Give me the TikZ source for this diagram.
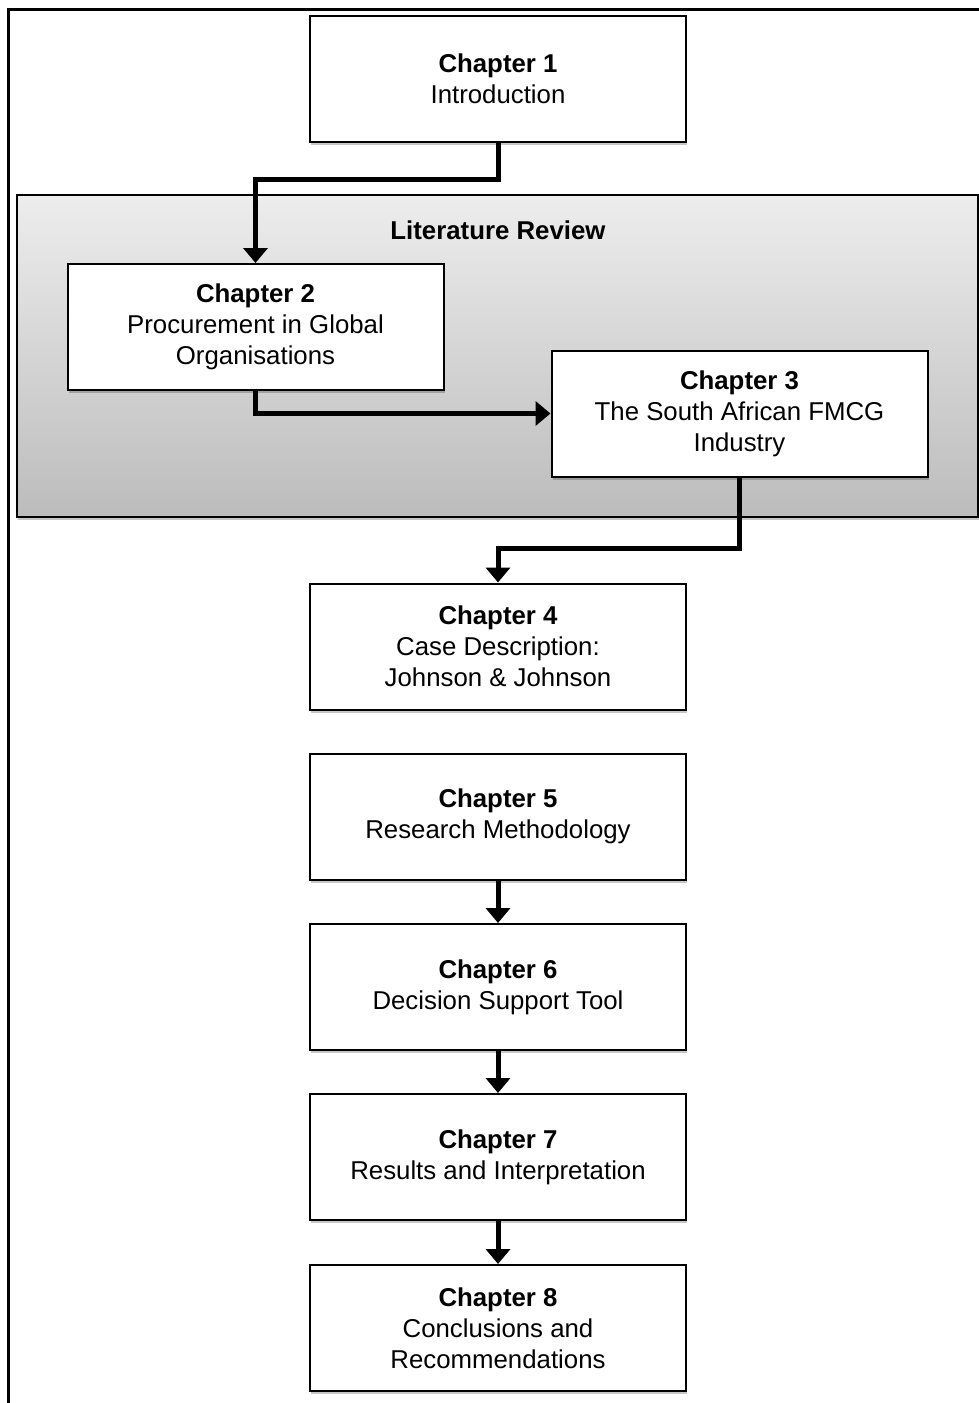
\documentclass[tikz,border=0pt]{standalone}
\usepackage{fontspec}
\setmainfont{Liberation Sans}
\usetikzlibrary{arrows.meta,shadows}
\definecolor{littop}{HTML}{EDEDED}
\definecolor{litbottom}{HTML}{BCBCBC}
\tikzset{
  chapbox/.style={draw=black, line width=1pt, fill=white,
    minimum width=188pt, minimum height=63pt, align=center,
    font=\fontsize{12.9}{15.5}\selectfont,
    drop shadow={shadow xshift=0.6pt, shadow yshift=-1.6pt, fill=black, opacity=0.22}},
  flow/.style={line width=2.5pt, -{Triangle[length=7.5pt,width=12pt]}},
}
\begin{document}
\begin{tikzpicture}[x=0.5pt,y=-0.5pt]
\useasboundingbox (0,0) rectangle (979,1403);

% outer frame, running off the right and bottom edges
\begin{scope}
  \clip (0,0) rectangle (979,1403);
  \draw[line width=1.5pt] (8,9) rectangle (1000,1420);
\end{scope}

% literature review panel
\node[draw=black, line width=1pt, top color=littop, bottom color=litbottom,
      minimum width=480.5pt, minimum height=161pt,
      drop shadow={shadow xshift=0.6pt, shadow yshift=-1.6pt, fill=black, opacity=0.22}]
      (lit) at (497.5,356) {};
\node[font=\fontsize{12.9}{15.5}\selectfont\bfseries] (littitle) at (498,230) {Literature Review};

% chapters
\node[chapbox] (c1) at (498,79)     {\textbf{Chapter 1}\\Introduction};
\node[chapbox] (c2) at (255.5,327)  {\textbf{Chapter 2}\\Procurement in Global\\Organisations};
\node[chapbox] (c3) at (739.5,413.5){\textbf{Chapter 3}\\The South African FMCG\\Industry};
\node[chapbox] (c4) at (498,646.5)  {\textbf{Chapter 4}\\Case Description:\\Johnson \& Johnson};
\node[chapbox] (c5) at (498,816.5)  {\textbf{Chapter 5}\\Research Methodology};
\node[chapbox] (c6) at (498,987)    {\textbf{Chapter 6}\\Decision Support Tool};
\node[chapbox] (c7) at (498,1157)   {\textbf{Chapter 7}\\Results and Interpretation};
\node[chapbox] (c8) at (498,1328)   {\textbf{Chapter 8}\\Conclusions and\\Recommendations};

% connectors
\draw[flow] (c1.south) -- ++(0,36) -| (c2.north);
\draw[flow] (c2.south) |- (c3.west);
\draw[flow] (c3.south) -- ++(0,71) -| (c4.north);
\draw[flow] (c5.south) -- (c6.north);
\draw[flow] (c6.south) -- (c7.north);
\draw[flow] (c7.south) -- (c8.north);
\end{tikzpicture}
\end{document}
